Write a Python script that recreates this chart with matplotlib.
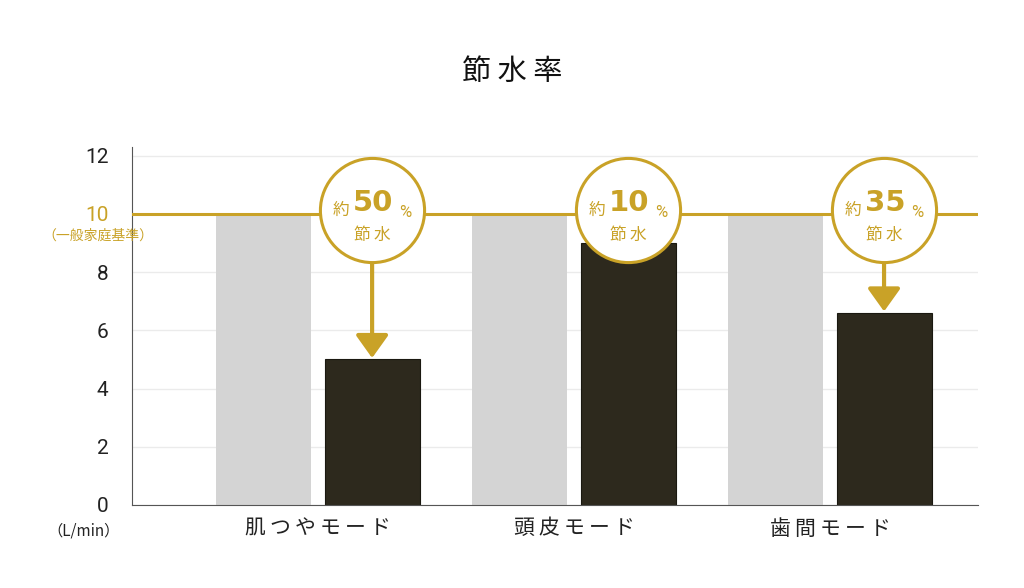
import matplotlib
matplotlib.use("Agg")
import matplotlib.pyplot as plt
import numpy as np

plt.rcParams['font.family'] = ['Noto Sans CJK JP', 'DejaVu Sans']

# データ
categories = ['肌つやモード', '頭皮モード', '歯間モード']
standard = [10, 10, 10]          # 一般家庭基準 (L/min)
mode_values = [5.0, 9.0, 6.6]    # 各モード (L/min)
saving_pct = ['50', '10', '35']
show_arrow = [True, False, True]
y_ticks = [0, 2, 4, 6, 8, 10, 12]

GOLD = '#C9A227'
DARK = '#2D291D'
GRAY = '#D4D4D4'
NUM_FONT = ['Roboto', 'DejaVu Sans']
THIN = '\u2009'


def spaced(s):
    # 文字間を少し空ける
    return THIN.join(s)


fig = plt.figure(figsize=(10.24, 5.88), dpi=100)
ax = fig.add_axes([132 / 1024, 1 - 505 / 588, (978 - 132) / 1024, (505 - 147) / 588])

x = np.arange(len(categories))
w = 0.371
ax.bar(x - 0.213, standard, width=w, color=GRAY, zorder=2)
ax.bar(x + 0.211, mode_values, width=w, color=DARK, edgecolor='#1a1810', linewidth=0.8, zorder=2)

ax.set_xlim(-0.727, 2.578)
ax.set_ylim(0, 12.3)

# グリッド
ax.set_yticks(y_ticks)
ax.yaxis.grid(True, color='#EBEBEB', linewidth=1, zorder=0)
ax.set_axisbelow(True)
ax.axhline(10, color=GOLD, linewidth=2.2, zorder=3)

for s in ['top', 'right']:
    ax.spines[s].set_visible(False)
ax.spines['left'].set_color('#555555')
ax.spines['bottom'].set_color('#555555')

ax.tick_params(axis='both', length=0)
ax.set_yticklabels([str(t) for t in y_ticks], fontsize=15, color='#222222', family=NUM_FONT)
ax.get_yticklabels()[5].set_color(GOLD)
ax.tick_params(axis='y', pad=17)
ax.set_xticks(x + 0.0)
ax.set_xticklabels([spaced(c) for c in categories], fontsize=15, color='#222222')
ax.tick_params(axis='x', pad=9)

ax.annotate('（一般家庭基準）', xy=(0, 10), xycoords=('axes fraction', 'data'),
            xytext=(-34, -22), textcoords='offset pixels', ha='center', va='center',
            fontsize=10, color=GOLD)
ax.annotate('（L/min）', xy=(0, 0), xycoords=('axes fraction', 'data'),
            xytext=(-48, -26), textcoords='offset pixels', ha='center', va='center',
            fontsize=11, color='#222222')

# 丸と矢印
for i in range(len(categories)):
    cx = x[i] + 0.211
    cy = 10.12
    if show_arrow[i]:
        ax.annotate('', xy=(cx, mode_values[i] + 0.05), xytext=(cx, cy),
                    arrowprops=dict(arrowstyle='-|>,head_length=0.7,head_width=0.5',
                                    color=GOLD, lw=3, mutation_scale=20,
                                    shrinkA=37, shrinkB=0),
                    zorder=4)
    ax.plot([cx], [cy], marker='o', markersize=75, markerfacecolor='white',
            markeredgecolor=GOLD, markeredgewidth=2.2, zorder=5)
    ax.annotate('約', xy=(cx, cy), xytext=(-31, 0), textcoords='offset pixels',
                ha='center', va='center', fontsize=12, color=GOLD, zorder=6)
    ax.annotate(saving_pct[i], xy=(cx, cy), xytext=(1, -1), textcoords='offset pixels',
                ha='center', va='baseline', fontsize=21, fontweight='bold',
                family='DejaVu Sans', color=GOLD, zorder=6)
    ax.annotate('%', xy=(cx, cy), xytext=(33, -7), textcoords='offset pixels',
                ha='center', va='baseline', fontsize=12, family=NUM_FONT,
                color=GOLD, zorder=6)
    ax.annotate(spaced('節水'), xy=(cx, cy), xytext=(0, -25), textcoords='offset pixels',
                ha='center', va='center', fontsize=12, color=GOLD, zorder=6)

fig.text(0.5, 1 - 72 / 588, ' '.join('節水率'), ha='center', va='center',
         fontsize=21, color='#111111')

fig.savefig('out.png', dpi=100, facecolor='white')
